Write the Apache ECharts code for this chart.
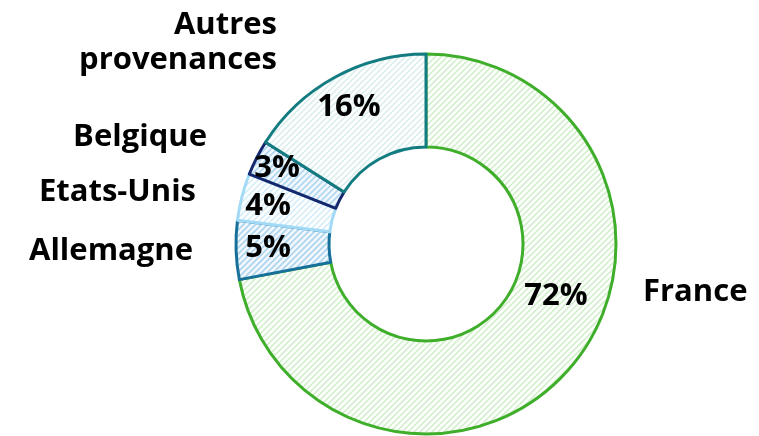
<!DOCTYPE html>
<html>
<head>
<meta charset="utf-8">
<script src="https://cdn.jsdelivr.net/npm/echarts@6/dist/echarts.min.js"></script>
<style>
html, body { margin: 0; padding: 0; background: #fff; }
#main { width: 759px; height: 436px; }
</style>
</head>
<body>
<div id="main"></div>
<script>
// données
var categories = ['France', 'Allemagne', 'Etats-Unis', 'Belgique', 'Autres provenances'];
var values = [72, 5, 4, 3, 16];

// couleurs : bordure, fond, hachures
var borderColors = ['#3fae2a', '#17709a', '#a3daf5', '#14286e', '#137c80'];
var fillColors = ['#ffffff', '#f2f8fd', '#ffffff', '#f2f8fd', '#ffffff'];
var stripeColors = ['#d3f0cc', '#add3ed', '#d6edfa', '#b0d6f0', '#dceeee'];

// position des étiquettes (placées à la main comme dans l'original)
var pctPos = [[556, 296], [268, 248], [268, 206], [277, 168], [349, 107]];
var namePos = [[643, 292, 'left'], [193, 251, 'right'], [196, 192, 'right'], [207, 137, 'right'], [277, 43, 'right']];

function hatch(bg, line) {
    var c = document.createElement('canvas');
    c.width = 6; c.height = 6;
    var g = c.getContext('2d');
    g.fillStyle = bg;
    g.fillRect(0, 0, 6, 6);
    g.strokeStyle = line;
    g.lineWidth = 1.6;
    g.beginPath();
    g.moveTo(0, 6); g.lineTo(6, 0);
    g.moveTo(-1, 1); g.lineTo(1, -1);
    g.moveTo(5, 7); g.lineTo(7, 5);
    g.stroke();
    return { image: c, repeat: 'repeat' };
}

var myChart = echarts.init(document.getElementById('main'));

var pieData = categories.map(function (name, i) {
    return {
        name: name,
        value: values[i],
        itemStyle: {
            color: hatch(fillColors[i], stripeColors[i]),
            borderColor: borderColors[i],
            borderWidth: 3
        }
    };
});

var labelData = categories.map(function (name, i) {
    return { name: name, value: values[i] };
});

var font = { fontFamily: 'Open Sans', fontWeight: 'bold', fontSize: 31, color: '#000' };

option = {
    animation: false,
    series: [
        {
            type: 'pie',
            center: [426, 244],
            radius: [97, 190],
            startAngle: 90,
            clockwise: true,
            avoidLabelOverlap: false,
            silent: true,
            label: Object.assign({
                show: true,
                position: 'inside',
                formatter: '{c}%'
            }, font),
            labelLine: { show: false },
            labelLayout: function (p) {
                var pos = pctPos[p.dataIndex];
                return { x: pos[0], y: pos[1], align: 'center', verticalAlign: 'middle' };
            },
            data: pieData
        },
        {
            type: 'pie',
            center: [426, 244],
            radius: [97, 190],
            startAngle: 90,
            clockwise: true,
            avoidLabelOverlap: false,
            silent: true,
            itemStyle: { color: 'rgba(0,0,0,0)', borderWidth: 0 },
            label: Object.assign({
                show: true,
                position: 'outside',
                lineHeight: 35,
                formatter: function (p) {
                    return p.name.replace('Autres ', 'Autres\n');
                }
            }, font),
            labelLine: { show: false },
            labelLayout: function (p) {
                var pos = namePos[p.dataIndex];
                return { x: pos[0], y: pos[1], align: pos[2], verticalAlign: 'middle' };
            },
            data: labelData
        }
    ]
};
myChart.setOption(option);
</script>
</body>
</html>
